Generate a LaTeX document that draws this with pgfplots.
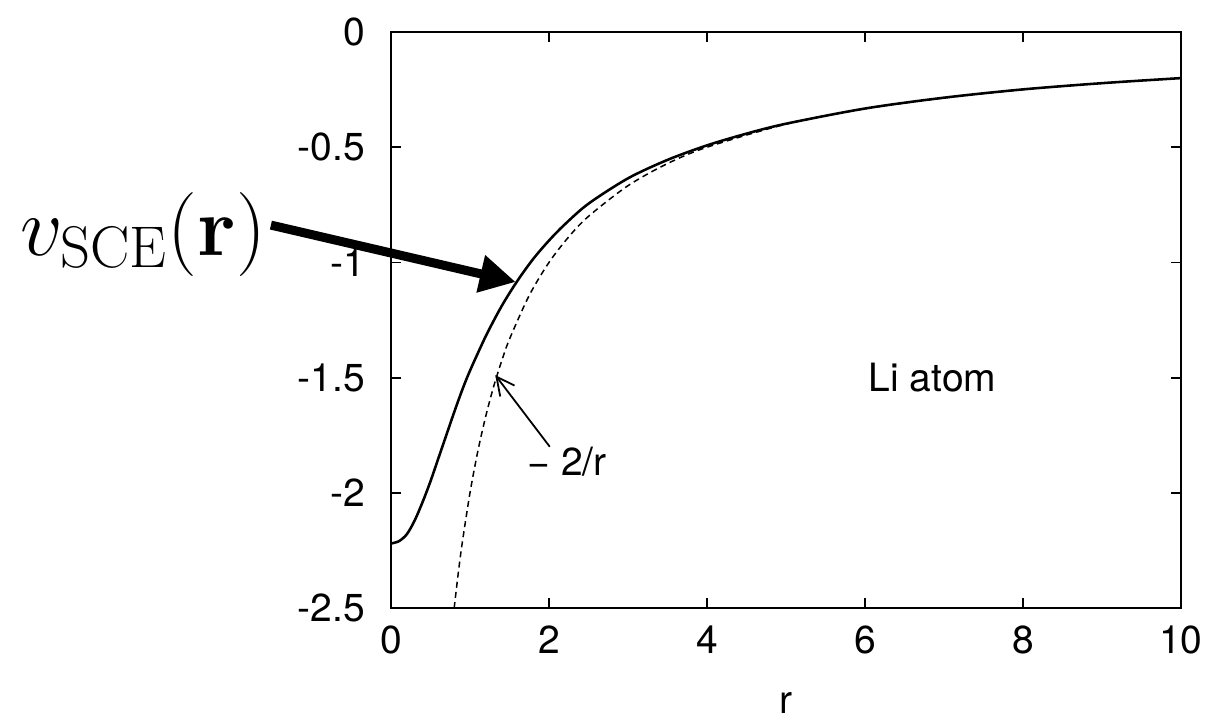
\RequirePackage{fix-cm}
\documentclass[border=0pt]{standalone}
\usepackage[no-math]{fontspec}
\setmainfont{TeX Gyre Heros}
\usepackage{pgfplots}
\pgfplotsset{compat=1.18}
\usetikzlibrary{arrows.meta}

\begin{document}
\begin{tikzpicture}
\useasboundingbox (-130.33pt,-38.67pt) rectangle (274.33pt,202.67pt);
\begin{axis}[
  at={(0,0)}, anchor=south west,
  scale only axis, width=263.33pt, height=192pt,
  xmin=0, xmax=10, ymin=-2.5, ymax=0,
  xtick={0,2,4,6,8,10}, ytick={-2.5,-2,-1.5,-1,-0.5,0},
  xticklabels={0,2,4,6,8,10},
  yticklabels={-2.5,-2,-1.5,-1,-0.5,0},
  tick align=inside, major tick length=3.3pt,
  tick style={line width=0.6pt, black},
  axis line style={line width=0.8pt},
  ticklabel style={font=\fontsize{13}{15}\selectfont},
  yticklabel style={inner sep=0pt, anchor=east, xshift=-8.5pt},
  xticklabel style={inner sep=0pt, anchor=north, yshift=-5.7pt},
  clip=false,
]
% Li atom SCE potential
\addplot[black, line width=0.85pt, smooth] coordinates {
  (0,-2.22) (0.1,-2.21) (0.2,-2.18) (0.3,-2.12) (0.4,-2.04) (0.5,-1.95)
  (0.6,-1.85) (0.7,-1.75) (0.8,-1.65) (0.9,-1.555) (1.0,-1.47) (1.2,-1.32)
  (1.4,-1.19) (1.6,-1.08) (1.8,-0.985) (2.0,-0.905) (2.2,-0.835) (2.5,-0.745)
  (3.0,-0.635) (3.5,-0.555) (4.0,-0.492) (4.5,-0.441) (5.0,-0.398)
  (6.0,-0.332) (7.0,-0.285) (8.0,-0.249) (9.0,-0.222) (10,-0.2)
};
% asymptotic -2/r
\addplot[black, line width=0.5pt, dash pattern=on 2pt off 1.4pt, smooth] coordinates {
  (0.8,-2.5) (0.85,-2.353) (0.9,-2.222) (1.0,-2.0) (1.1,-1.818) (1.2,-1.667)
  (1.3,-1.538) (1.4,-1.429) (1.5,-1.333) (1.75,-1.143) (2.0,-1.0) (2.25,-0.889)
  (2.5,-0.8) (3.0,-0.667) (3.5,-0.571) (4.0,-0.5) (5.0,-0.4) (6.0,-0.333)
  (7.0,-0.286) (8.0,-0.25) (9.0,-0.222) (10,-0.2)
};
\node[anchor=west, inner sep=0pt, font=\fontsize{13}{15}\selectfont] at (axis cs:6.04,-1.5) {Li atom};
\node[anchor=west, inner sep=0pt, font=\fontsize{13}{15}\selectfont] at (axis cs:1.72,-1.866) {− 2/r};
\draw[line width=0.6pt, -{Straight Barb[length=6pt,width=6pt]}] (axis cs:2.01,-1.80) -- (axis cs:1.32,-1.489);
\draw[line width=3pt, -{Triangle[length=12pt,width=12pt]}] (axis cs:-1.52,-0.838) -- (axis cs:1.58,-1.085);
\node[anchor=base west, inner sep=0pt] at (axis cs:-4.70,-0.968) {\fontsize{28}{32}\selectfont $v_{\mathrm{SCE}}(\mathbf{r})$};
\node[anchor=base, inner sep=0pt, font=\fontsize{13}{15}\selectfont] at (axis cs:5,-2.5) [yshift=-35.3pt] {r};
\end{axis}
\end{tikzpicture}
\end{document}
